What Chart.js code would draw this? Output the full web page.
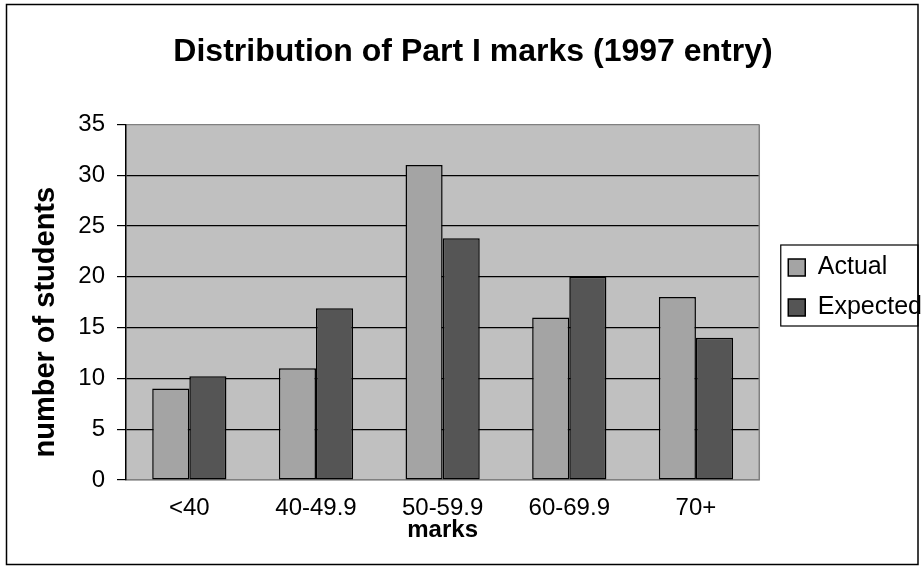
<!DOCTYPE html>
<html>
<head>
<meta charset="utf-8">
<script src="https://cdn.jsdelivr.net/npm/chart.js@4/dist/chart.umd.min.js"></script>
<style>
  html, body { margin: 0; padding: 0; background: #ffffff; }
  canvas { display: block; }
</style>
</head>
<body>
<canvas id="chart" width="923" height="569"></canvas>
<script>
// Mark bands and student counts
const categories = ['<40', '40-49.9', '50-59.9', '60-69.9', '70+'];
const actual = [9, 11, 31, 16, 18];
const expected = [10.2, 16.9, 23.8, 20, 14];
const seriesNames = ['Actual', 'Expected'];
const yTicks = [0, 5, 10, 15, 20, 25, 30, 35];
const yTitle = 'number of students';

const FONT = "'Liberation Sans', Arial, Helvetica, sans-serif";

// Grey plot background, plot frame, legend frame, value-axis title and outer border
const framePlugin = {
  id: 'framePlugin',
  afterLayout(chart) {
    const lg = chart.legend;
    lg.left += 14; lg.right += 14;
    lg.top += 3; lg.bottom += 3;
  },
  beforeDraw(chart) {
    const { ctx, chartArea: a } = chart;
    ctx.save();
    ctx.fillStyle = '#c0c0c0';
    ctx.fillRect(a.left, a.top, a.right - a.left, a.bottom - a.top);
    ctx.restore();
  },
  beforeDatasetsDraw(chart) {
    const { ctx, chartArea: a } = chart;
    ctx.save();
    ctx.strokeStyle = '#808080';
    ctx.lineWidth = 1.5;
    ctx.beginPath();
    ctx.moveTo(a.right, a.top);
    ctx.lineTo(a.right, a.bottom);
    ctx.stroke();
    ctx.restore();
  },
  afterDraw(chart) {
    const { ctx, chartArea: a } = chart;
    const lg = chart.legend;
    const cy = (lg.top + lg.bottom) / 2;
    ctx.save();
    // legend frame, open past the right border
    ctx.strokeStyle = '#000000';
    ctx.lineWidth = 1.2;
    ctx.strokeRect(lg.left + 7.5, cy - 42.5, 918 - (lg.left + 7.5), 81);
    // rotated value-axis title, sitting a little below the plot centre
    ctx.translate(46, (a.top + a.bottom) / 2 + 20);
    ctx.rotate(-Math.PI / 2);
    ctx.fillStyle = '#000000';
    ctx.font = "bold 29px " + FONT;
    ctx.textAlign = 'center';
    ctx.textBaseline = 'middle';
    ctx.fillText(yTitle, 0, 0);
    ctx.setTransform(1, 0, 0, 1, 0, 0);
    // outer chart border
    ctx.lineWidth = 1.5;
    ctx.strokeRect(6.5, 4.5, 911.5, 560);
    ctx.restore();
  }
};

new Chart(document.getElementById('chart'), {
  type: 'bar',
  data: {
    labels: categories,
    datasets: [
      {
        label: seriesNames[0],
        data: actual,
        backgroundColor: '#a4a4a4',
        borderColor: '#000000',
        borderWidth: 1.5,
        borderSkipped: false
      },
      {
        label: seriesNames[1],
        data: expected,
        backgroundColor: '#555555',
        borderColor: '#000000',
        borderWidth: 1.5,
        borderSkipped: false
      }
    ]
  },
  options: {
    responsive: false,
    animation: false,
    devicePixelRatio: 1,
    layout: { padding: { left: 28, right: 5, top: 0, bottom: 0 } },
    datasets: {
      bar: { categoryPercentage: 0.586, barPercentage: 1.0 }
    },
    plugins: {
      tooltip: { enabled: false },
      title: {
        display: true,
        text: 'Distribution of Part I marks (1997 entry)',
        color: '#000000',
        font: { family: FONT, size: 32, weight: 'bold' },
        padding: { top: 33, bottom: 53 }
      },
      legend: {
        position: 'right',
        maxWidth: 161,
        labels: {
          color: '#000000',
          font: { family: FONT, size: 25 },
          boxWidth: 17,
          boxHeight: 17,
          padding: 15
        }
      }
    },
    scales: {
      x: {
        grid: { display: false, drawTicks: false },
        border: { display: true, color: '#808080', width: 1.5 },
        ticks: {
          color: '#000000',
          font: { family: FONT, size: 24 },
          padding: 14,
          maxRotation: 0
        },
        title: {
          display: true,
          text: 'marks',
          color: '#000000',
          font: { family: FONT, size: 24, weight: 'bold' },
          padding: { top: 0, bottom: 24 }
        },
        afterFit(scale) { scale.height = 89; }
      },
      y: {
        min: yTicks[0],
        max: yTicks[yTicks.length - 1],
        afterBuildTicks(scale) { scale.ticks = yTicks.map(v => ({ value: v })); },
        grid: {
          color: ctx => (ctx.tick && (ctx.tick.value === 0 || ctx.tick.value === 35)) ? '#808080' : '#000000',
          lineWidth: 1.2,
          drawTicks: true,
          tickLength: 9,
          tickColor: '#000000'
        },
        border: { display: true, color: '#000000', width: 1.5 },
        ticks: {
          color: '#000000',
          font: { family: FONT, size: 24 },
          padding: 12
        },
        title: { display: false },
        afterFit(scale) { scale.width = 98; }
      }
    }
  },
  plugins: [framePlugin]
});
</script>
</body>
</html>
